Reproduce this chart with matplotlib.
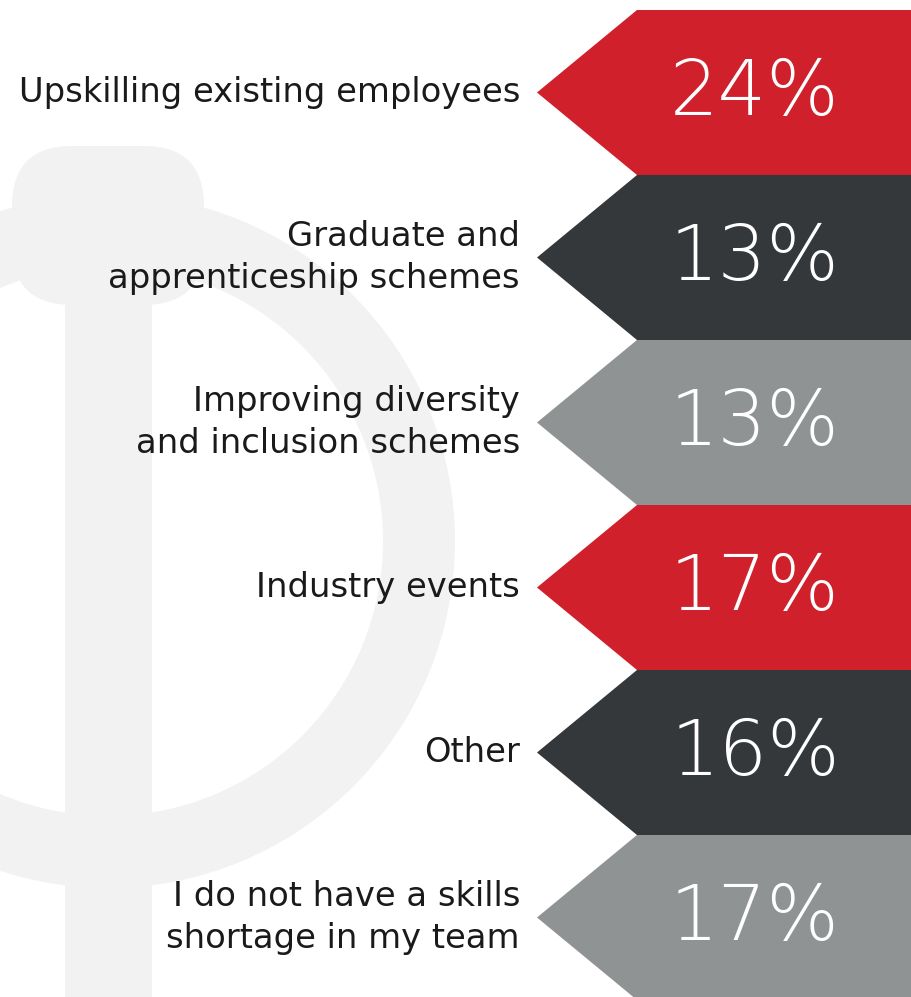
import matplotlib
matplotlib.use("Agg")
import matplotlib.pyplot as plt
from matplotlib.patches import Wedge, Rectangle, FancyBboxPatch

categories = [
    "Upskilling existing employees",
    "Graduate and\napprenticeship schemes",
    "Improving diversity\nand inclusion schemes",
    "Industry events",
    "Other",
    "I do not have a skills\nshortage in my team",
]
values = [24, 13, 13, 17, 16, 17]
colors = ["#D0202B", "#35383B", "#909394", "#D0202B", "#35383B", "#909394"]

W, H = 911, 997
fig = plt.figure(figsize=(W / 100, H / 100), dpi=100)
ax = fig.add_axes([0, 0, 1, 1])
ax.set_xlim(0, W)
ax.set_ylim(H, 0)
ax.axis("off")

# background logo (light grey)
logo = "#F2F2F2"
ax.add_patch(Wedge((108, 541), 347, 0, 360, width=72, color=logo, lw=0, zorder=0))
ax.add_patch(Rectangle((65, 290), 87, 720, color=logo, lw=0, zorder=0))
ax.add_patch(FancyBboxPatch((62, 196), 92, 59, boxstyle="round,pad=50,rounding_size=60",
                            color=logo, lw=0, zorder=0))

top0, step = 10, 165
tip_x, corner_x = 537, 637

for i, (cat, val, col) in enumerate(zip(categories, values, colors)):
    top = top0 + i * step
    bot = top + step
    mid = (top + bot) / 2
    xs = [tip_x, corner_x, W + 5, W + 5, corner_x]
    ys = [mid, top, top, bot, bot]
    ax.fill(xs, ys, color=col, lw=0, zorder=2)
    ax.text(755, mid + 1, f"{val}%", ha="center", va="center", color="white",
            fontsize=55, family=["DejaVu Sans"], fontweight=200, zorder=3)
    ax.text(520, mid, cat, ha="right", va="center", color="#1a1a1a",
            fontsize=24.3, family=["DejaVu Sans"], linespacing=1.37, zorder=3)

fig.savefig("out.png", dpi=100)
